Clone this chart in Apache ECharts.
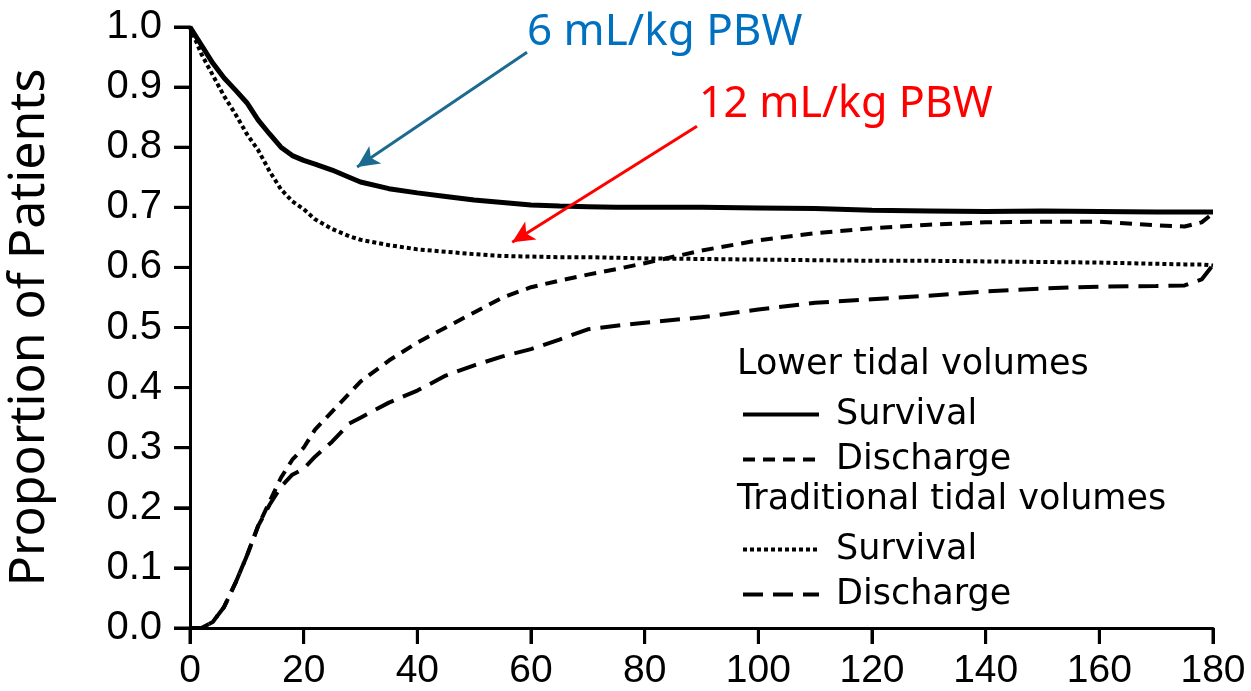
<!DOCTYPE html>
<html>
<head>
<meta charset="utf-8">
<script src="https://cdn.jsdelivr.net/npm/echarts@6/dist/echarts.min.js"></script>
<style>
  html, body { margin: 0; padding: 0; background: #fff; }
  #main { width: 1251px; height: 691px; }
</style>
</head>
<body>
<div id="main"></div>
<script>
// days since enrollment
const days = [0, 2, 4, 6, 8, 10, 12, 14, 16, 18, 20, 22, 25, 28, 30, 35, 40, 45, 50, 55, 60, 65, 70, 75, 80, 90, 100, 110, 120, 130, 140, 150, 160, 170, 175, 178, 180];

// lower tidal volumes
const lowerSurvival = [1.0, 0.97, 0.94, 0.915, 0.895, 0.874, 0.845, 0.822, 0.8, 0.786, 0.778, 0.772, 0.762, 0.75, 0.742, 0.731, 0.724, 0.718, 0.712, 0.708, 0.704, 0.702, 0.701, 0.7, 0.7, 0.7, 0.699, 0.698, 0.695, 0.694, 0.693, 0.694, 0.693, 0.692, 0.692, 0.692, 0.692];
const lowerDischarge = [0, 0, 0.01, 0.035, 0.075, 0.12, 0.17, 0.21, 0.25, 0.28, 0.3, 0.33, 0.36, 0.39, 0.41, 0.445, 0.475, 0.5, 0.525, 0.55, 0.567, 0.578, 0.588, 0.597, 0.607, 0.628, 0.645, 0.657, 0.665, 0.671, 0.675, 0.676, 0.676, 0.67, 0.668, 0.675, 0.69];

// traditional tidal volumes
const tradSurvival = [1.0, 0.955, 0.92, 0.885, 0.855, 0.822, 0.795, 0.76, 0.73, 0.71, 0.697, 0.68, 0.664, 0.652, 0.646, 0.637, 0.63, 0.626, 0.622, 0.619, 0.618, 0.617, 0.617, 0.616, 0.615, 0.614, 0.613, 0.612, 0.611, 0.611, 0.61, 0.609, 0.608, 0.606, 0.605, 0.605, 0.603];
const tradDischarge = [0, 0, 0.01, 0.035, 0.075, 0.12, 0.17, 0.205, 0.235, 0.255, 0.265, 0.285, 0.31, 0.34, 0.35, 0.375, 0.395, 0.42, 0.437, 0.452, 0.464, 0.48, 0.497, 0.503, 0.508, 0.517, 0.53, 0.541, 0.547, 0.553, 0.56, 0.565, 0.568, 0.569, 0.57, 0.58, 0.604];

// annotation arrows: [start, end] in data coords
const blueArrow = [[59.3, 0.958], [29.4, 0.767]];
const redArrow = [[89.2, 0.835], [56.7, 0.642]];

const pair = (ys) => days.map((d, i) => [d, ys[i]]);

const chart = echarts.init(document.getElementById('main'));

const legendText = {
  fontFamily: 'DejaVu Sans',
  fontSize: 35,
  color: '#000',
  padding: [0, 0, 0, 12]
};

function lineSeries(name, data, type, width, extra) {
  return Object.assign({
    name: name,
    type: 'line',
    data: pair(data),
    symbol: 'none',
    lineStyle: { color: '#000', width: width, type: type },
    itemStyle: { color: '#000' },
    z: 3
  }, extra || {});
}

function legendBlock(names, prefix, top) {
  return {
    data: names,
    orient: 'vertical',
    left: 736,
    top: top,
    itemWidth: 76,
    itemHeight: 14,
    itemGap: 10,
    textStyle: legendText,
    itemStyle: { opacity: 0 },
    lineStyle: { width: 4 },
    formatter: (n) => n.replace(prefix, ''),
    selectedMode: false
  };
}

// extra axes that only draw the outside tick marks (as small black label boxes)
function tickAxis(max, interval, position, w, h) {
  return {
    type: 'value',
    position: position,
    min: 0,
    max: max,
    interval: interval,
    axisLine: { show: false },
    axisTick: { show: true, length: 16, lineStyle: { color: '#000', width: 3 } },
    splitLine: { show: false },
    axisLabel: {
      show: true,
      margin: 0,
      showMinLabel: true,
      showMaxLabel: true,
      hideOverlap: false,
      fontSize: 1,
      formatter: () => '{t| }',
      rich: { t: { width: w, height: h, lineHeight: h, fontSize: 1, backgroundColor: '#000' } }
    }
  };
}

chart.setOption({
  animation: false,
  backgroundColor: '#fff',
  grid: { left: 190, right: 38, top: 27, bottom: 63, outerBoundsMode: 'none' },
  xAxis: [
    {
      type: 'value',
      position: 'bottom',
      min: 0,
      max: 180,
      interval: 20,
      axisLine: { show: true, lineStyle: { color: '#000', width: 3 } },
      axisTick: { show: false },
      splitLine: { show: false },
      axisLabel: {
        color: '#000',
        fontSize: 39,
        fontFamily: 'Liberation Sans',
        margin: 24
      }
    },
    tickAxis(180, 20, 'bottom', 3, 16)
  ],
  yAxis: [
    {
      type: 'value',
      position: 'left',
      min: 0,
      max: 1,
      interval: 0.1,
      name: 'Proportion of Patients',
      nameLocation: 'middle',
      nameGap: 135,
      nameRotate: 90,
      nameMoveOverlap: false,
      nameTextStyle: { color: '#000', fontSize: 50, fontFamily: 'Noto Sans' },
      axisLine: { show: true, lineStyle: { color: '#000', width: 3 } },
      axisTick: { show: false },
      splitLine: { show: false },
      axisLabel: {
        color: '#000',
        fontSize: 40,
        fontFamily: 'Liberation Sans',
        margin: 28,
        formatter: (v) => v.toFixed(1)
      }
    },
    tickAxis(1, 0.1, 'left', 16, 3)
  ],
  legend: [
    legendBlock(['Lower Survival', 'Lower Discharge'], 'Lower ', 392),
    legendBlock(['Traditional Survival', 'Traditional Discharge'], 'Traditional ', 527)
  ],
  graphic: [
    { type: 'text', left: 737, top: 347, style: { text: 'Lower tidal volumes', font: '35px "DejaVu Sans"', fill: '#000' } },
    { type: 'text', left: 737, top: 482, style: { text: 'Traditional tidal volumes', font: '35px "DejaVu Sans"', fill: '#000' } },
    { type: 'text', left: 527, top: 10, style: { text: '6 mL/kg PBW', font: '44px "Noto Sans"', fill: '#0070C0' } },
    { type: 'text', left: 699, top: 83, style: { text: '12 mL/kg PBW', font: '43px "Noto Sans"', fill: '#FF0000' } }
  ],
  series: [
    lineSeries('Lower Survival', lowerSurvival, 'solid', 5, {
      markLine: {
        silent: true,
        symbol: ['none', 'arrow'],
        symbolSize: [16, 22],
        label: { show: false },
        data: [
          [{ coord: blueArrow[0], lineStyle: { color: '#1D6A91', width: 3, type: 'solid' } }, { coord: blueArrow[1] }],
          [{ coord: redArrow[0], lineStyle: { color: '#FF0000', width: 3, type: 'solid' } }, { coord: redArrow[1] }]
        ]
      }
    }),
    lineSeries('Lower Discharge', lowerDischarge, [12, 8], 4),
    lineSeries('Traditional Survival', tradSurvival, [4, 3], 4),
    lineSeries('Traditional Discharge', tradDischarge, [20, 10], 4)
  ]
});
</script>
</body>
</html>
